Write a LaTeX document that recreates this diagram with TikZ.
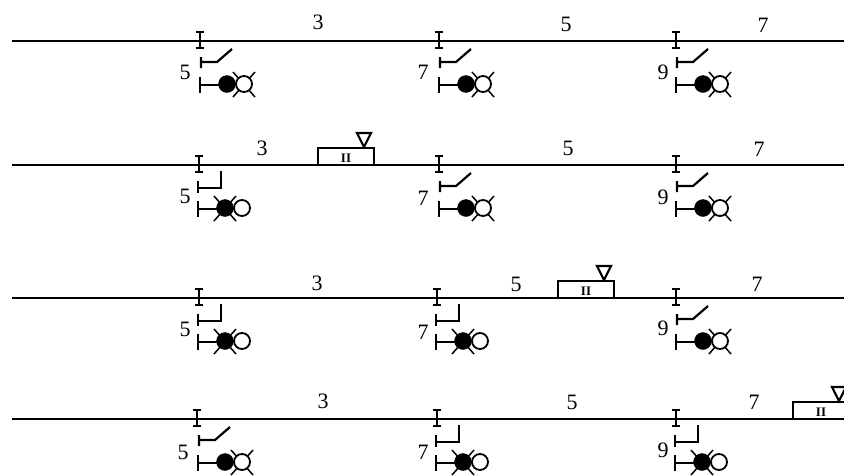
\documentclass[tikz,border=0pt]{standalone}
\usepackage{fontspec}
\setmainfont{Liberation Serif}
\usetikzlibrary{positioning,calc}

% relay and signal parts, #1 #2 = foot of the joint on the track
\newcommand{\jointmark}[2]{%
  \draw[part] (#1-4,#2-9) -- (#1+4,#2-9) (#1-4,#2+7) -- (#1+4,#2+7) (#1,#2-9) -- (#1,#2+7);}
\newcommand{\relayup}[2]{%
  \draw[part] (#1+1,#2+16) -- (#1+1,#2+27) (#1+1,#2+21) -- (#1+17,#2+21) -- (#1+32,#2+8);}
\newcommand{\relaydown}[2]{%
  \draw[part] (#1,#2+16) -- (#1,#2+28) (#1,#2+23) -- (#1+23,#2+23) -- (#1+23,#2+6);}
\newcommand{\lampclear}[2]{%
  \draw[part] (#1,#2+36) -- (#1,#2+52) (#1,#2+44) -- (#1+20,#2+44);
  \draw[ray] (#1+33,#2+31) -- (#1+55,#2+56) (#1+55,#2+31) -- (#1+33,#2+56);
  \node[lampon] at (#1+27,#2+43) {};
  \node[lampoff] at (#1+44,#2+43) {};}
\newcommand{\lampstop}[2]{%
  \draw[part] (#1,#2+36) -- (#1,#2+52) (#1,#2+44) -- (#1+20,#2+44);
  \draw[ray] (#1+16,#2+31) -- (#1+38,#2+56) (#1+38,#2+31) -- (#1+16,#2+56);
  \node[lampon] at (#1+27,#2+43) {};
  \node[lampoff] at (#1+44,#2+43) {};}
\newcommand{\trainbox}[2]{%
  \draw[track] (#1,#2) -- (#1,#2-17) -- (#1+56,#2-17) -- (#1+56,#2);
  \node[trainlabel] at (#1+28,#2-7) {II};
  \draw[part] (#1+39,#2-32) -- (#1+53,#2-32) -- (#1+46,#2-18) -- cycle;}

\begin{document}
\begin{tikzpicture}[
    x=1pt, y=-1pt,
    track/.style={line width=2.5pt},
    part/.style={line width=2.2pt},
    ray/.style={line width=1.5pt},
    lampon/.style={circle, fill=black, draw=black, inner sep=0pt, minimum size=17pt},
    lampoff/.style={circle, fill=white, draw=black, line width=1.8pt, inner sep=0pt, minimum size=16pt},
    num/.style={font=\fontsize{22}{22}\selectfont, inner sep=0pt},
    trainlabel/.style={font=\fontsize{13}{13}\selectfont\bfseries, inner sep=0pt}
]
\useasboundingbox[fill=white] (0,0) rectangle (844,475);

% tracks
\foreach \ry in {41,165,298,419} {
  \coordinate (west\ry) at (12,\ry);
  \coordinate (east\ry) at (844,\ry);
  \draw[track] (west\ry) -- (east\ry);
}

% row 1
\foreach \px in {200,439,676} {\jointmark{\px}{41}\relayup{\px}{41}\lampclear{\px}{41}}
% row 2
\jointmark{199}{165}\relaydown{198}{165}\lampstop{198}{165}
\foreach \px in {439,676} {\jointmark{\px}{165}\relayup{\px}{165}\lampclear{\px}{165}}
\trainbox{318}{165}
% row 3
\jointmark{199}{298}\relaydown{198}{298}\lampstop{198}{298}
\jointmark{437}{298}\relaydown{436}{298}\lampstop{436}{298}
\jointmark{676}{298}\relayup{676}{298}\lampclear{676}{298}
\trainbox{558}{298}
% row 4
\jointmark{197}{419}\relayup{198}{419}\lampclear{198}{419}
\jointmark{437}{419}\relaydown{436}{419}\lampstop{436}{419}
\jointmark{676}{419}\relaydown{675}{419}\lampstop{675}{419}
\trainbox{793}{419}

% section numbers
\foreach \px/\py/\lab in {318/22/3,566/24/5,763/25/7,262/148/3,568/148/5,759/149/7,
    317/283/3,516/284/5,757/284/7,323/401/3,572/402/5,754/402/7,
    185/72/5,423/72/7,663/72/9,185/196/5,423/198/7,663/197/9,
    185/329/5,423/332/7,663/328/9,183/452/5,423/452/7,663/450/9}
  \node[num] at (\px,\py) {\lab};
\end{tikzpicture}
\end{document}
